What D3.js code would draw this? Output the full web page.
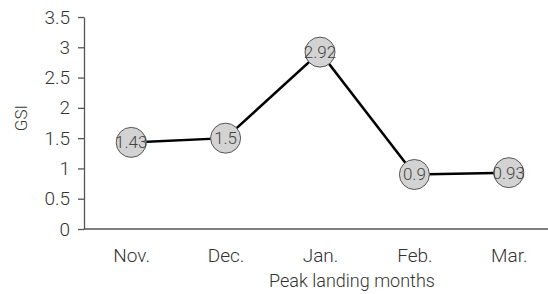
<!DOCTYPE html>
<html lang="en">
    <head>
        <meta charset="UTF-8">
        <title>GSI by peak landing months</title>
        <script src="https://d3js.org/d3.v7.min.js"></script>
    </head>

    <style>
        body {margin: 0; background: white;}
        text {font-family: Roboto, "Noto Sans", sans-serif; font-weight: 300; fill: #333;}
        .axis path, .axis line {stroke: #555; stroke-width: 1.3;}
        .axis text {font-size: 19px;}
    </style>

    <body>
        <svg width="548" height="294"></svg>

        <script>
            const months = ["Nov.", "Dec.", "Jan.", "Feb.", "Mar."];
            const gsi = [1.43, 1.5, 2.92, 0.9, 0.93];
            const yTicks = [0, 0.5, 1, 1.5, 2, 2.5, 3, 3.5];

            const data = months.map(function(m, i) {return {month: m, value: gsi[i]};});

            var x = d3.scalePoint().domain(months).range([84, 556]).padding(0.5);
            var y = d3.scaleLinear().domain([0, 3.5]).range([229, 17]);

            var svg = d3.select("svg");

            svg.append("g").attr("class", "axis")
                .attr("transform", "translate(84,0)")
                .call(d3.axisLeft(y).tickValues(yTicks).tickSize(6).tickPadding(8).tickSizeOuter(0)
                .tickFormat(d3.format("~g")));

            var xAxis = svg.append("g").attr("class", "axis")
                .attr("transform", "translate(0,229)")
                .call(d3.axisBottom(x).tickSize(0).tickPadding(20));
            xAxis.select(".domain").attr("d", "M84,0H548");

            svg.append("path").datum(data)
                .attr("fill", "none").attr("stroke", "black").attr("stroke-width", 2.5)
                .attr("d", d3.line().x(function(d) {return x(d.month);}).y(function(d) {return y(d.value);}));

            svg.selectAll("circle").data(data)
                .enter().append("circle")
                .attr("cx", function(d) {return x(d.month);})
                .attr("cy", function(d) {return y(d.value);})
                .attr("r", 15)
                .attr("fill", "#d3d3d3").attr("stroke", "#555").attr("stroke-width", 1);

            svg.selectAll("text.lbl").data(data)
                .enter().append("text").attr("class", "lbl")
                .attr("x", function(d) {return x(d.month);})
                .attr("y", function(d) {return y(d.value) + 6;})
                .attr("text-anchor", "middle")
                .style("font-size", "17px").style("fill", "#444")
                .text(function(d) {return d.value;});

            svg.append("text").attr("x", 352).attr("y", 287)
                .attr("text-anchor", "middle").style("font-size", "18px")
                .text("Peak landing months");

            svg.append("text").attr("transform", "translate(27,118) rotate(-90)")
                .attr("text-anchor", "middle").style("font-size", "17px")
                .text("GSI");
        </script>
    </body>
</html>
